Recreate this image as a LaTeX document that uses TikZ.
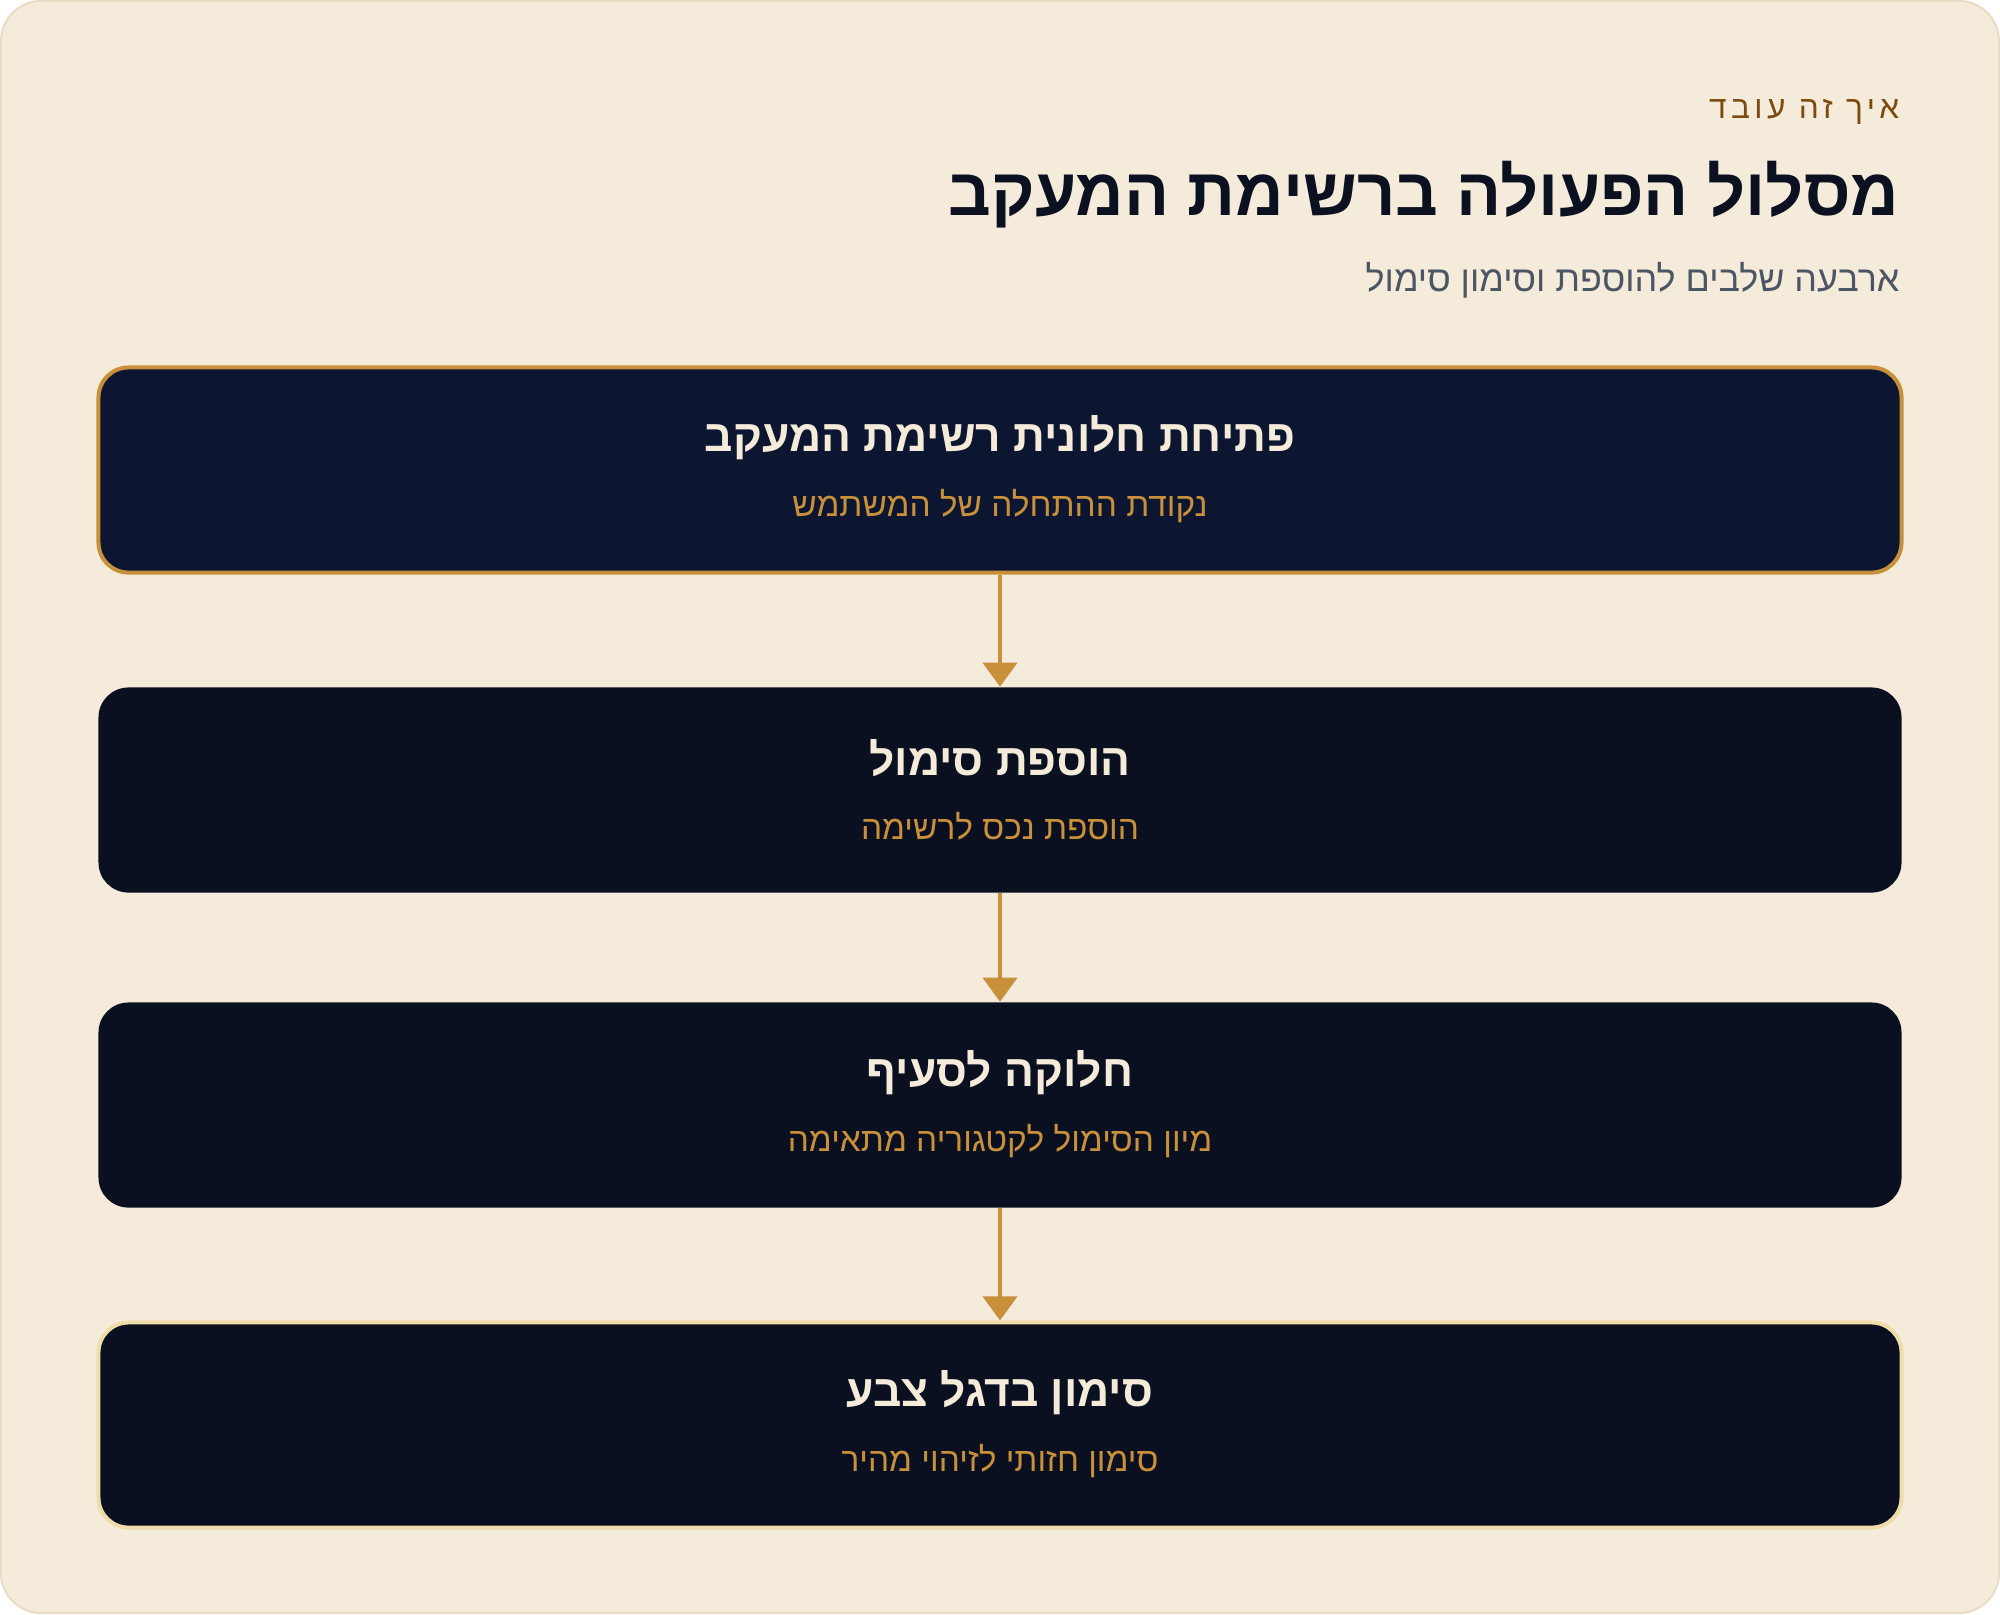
\documentclass[tikz,border=0pt]{standalone}
\usepackage{fontspec}
\usetikzlibrary{calc, arrows.meta}
\TeXXeTstate=1
\newfontfamily\hebfont[Script=Hebrew]{Liberation Sans}
\newfontfamily\hebspaced[Script=Hebrew,LetterSpace=14]{Liberation Sans}
\definecolor{panelbg}{HTML}{F5EBDA}
\definecolor{panelline}{HTML}{E8DDC4}
\definecolor{navy}{HTML}{0C1631}
\definecolor{ink}{HTML}{0A101F}
\definecolor{gold}{HTML}{C9903B}
\definecolor{palegold}{HTML}{F0DCAA}
\definecolor{titleink}{HTML}{0B1120}
\definecolor{greyink}{HTML}{4B5563}
\definecolor{brown}{HTML}{7C4A0E}

\begin{document}
\begin{tikzpicture}[x = 0.01cm, y = -0.01cm,
 stepbox/.style = {rectangle, rounded corners = 0.3cm, fill = ink,
  minimum width = 18.02cm, minimum height = 2.05cm, inner sep = 0pt},
 steptitle/.style = {font = \hebfont\bfseries\fontsize{12.6}{15}\selectfont, text = panelbg},
 stepnote/.style = {font = \hebfont\fontsize{9.5}{12}\selectfont, text = gold},
 header/.style = {anchor = east, inner sep = 0pt},
 flow/.style = {draw = gold, line width = 0.04cm, -{Triangle[width = 0.34cm, length = 0.24cm]}}]
 \useasboundingbox (0,0) rectangle (2000,1614);
 \fill[white] (0,0) rectangle (2000,1614);
 \draw[fill = panelbg, draw = panelline, line width = 0.02cm, rounded corners = 0.4cm]
 (1,1) rectangle (1999,1613);
 % 見出し
 \node[header, text = brown, font = \hebspaced\fontsize{9}{11}\selectfont] (eyebrow) at (1900,112) {\beginR איך זה עובד\endR};
 \node[header, text = titleink, font = \hebfont\bfseries\fontsize{19}{23}\selectfont] (title) at (1900,195) {\beginR מסלול הפעולה ברשימת המעקב\endR};
 \node[header, text = greyink, font = \hebfont\fontsize{10.2}{13}\selectfont] (subtitle) at (1900,280) {\beginR ארבעה שלבים להוספת וסימון סימול\endR};
 % 四つの段階
 \node[stepbox, fill = navy, draw = gold, line width = 0.04cm] (s1) at (1000,470) {};
 \node[stepbox] (s2) at (1000,790) {};
 \node[stepbox] (s3) at (1000,1105) {};
 \node[stepbox, draw = palegold, line width = 0.04cm] (s4) at (1000,1425) {};
 \node[steptitle] (t1) at ($(s1.center)+(0,-32)$) {\beginR פתיחת חלונית רשימת המעקב\endR};
 \node[stepnote] (n1) at ($(s1.center)+(0,36)$) {\beginR נקודת ההתחלה של המשתמש\endR};
 \node[steptitle] (t2) at ($(s2.center)+(0,-32)$) {\beginR הוספת סימול\endR};
 \node[stepnote] (n2) at ($(s2.center)+(0,36)$) {\beginR הוספת נכס לרשימה\endR};
 \node[steptitle] (t3) at ($(s3.center)+(0,-32)$) {\beginR חלוקה לסעיף\endR};
 \node[stepnote] (n3) at ($(s3.center)+(0,36)$) {\beginR מיון הסימול לקטגוריה מתאימה\endR};
 \node[steptitle] (t4) at ($(s4.center)+(0,-32)$) {\beginR סימון בדגל צבע\endR};
 \node[stepnote] (n4) at ($(s4.center)+(0,36)$) {\beginR סימון חזותי לזיהוי מהיר\endR};
 \draw[flow] (s1) -- (s2);
 \draw[flow] (s2) -- (s3);
 \draw[flow] (s3) -- (s4);
\end{tikzpicture}
\end{document}
